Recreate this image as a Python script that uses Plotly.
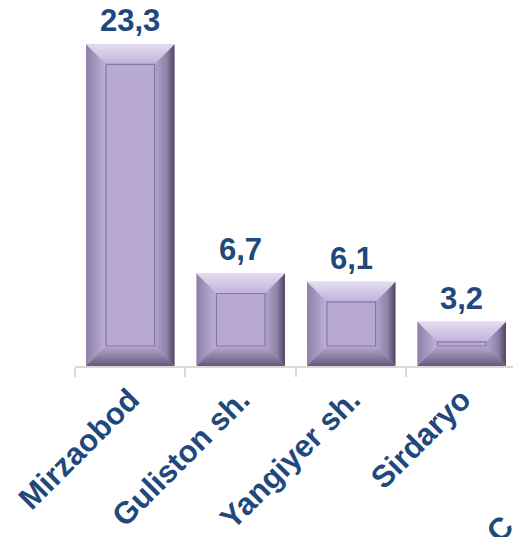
import plotly.graph_objects as go

categories = ["Mirzaobod", "Guliston sh.", "Yangiyer sh.", "Sirdaryo"]
values = [23.3, 6.7, 6.1, 3.2]

TEXT_COLOR = "#1F497D"
FONT = "Liberation Sans, Arial, sans-serif"
BAR_W = 0.8
BX = 0.18   # bevel width in category units
BY = 1.45   # bevel height in value units

fig = go.Figure()
xs = list(range(len(categories)))

fig.add_trace(go.Bar(
    x=xs, y=values, width=BAR_W,
    marker=dict(color="#B8A8D4", line=dict(width=0)),
    hoverinfo="skip", showlegend=False,
))

def face(px, py, gtype, scale):
    fig.add_trace(go.Scatter(
        x=px, y=py, mode="lines", fill="toself",
        line=dict(width=0), hoverinfo="skip", showlegend=False,
        fillgradient=dict(type=gtype, colorscale=scale),
    ))

for i, v in zip(xs, values):
    x0, x1 = i - BAR_W / 2, i + BAR_W / 2
    ix0, ix1 = x0 + BX, x1 - BX
    iy0, iy1 = BY, v - BY
    # left face
    face([x0, x0, ix0, ix0, x0], [0, v, iy1, iy0, 0], "horizontal",
         [[0, "#8C80A6"], [1, "#C0B1DA"]])
    # right face
    face([x1, x1, ix1, ix1, x1], [0, v, iy1, iy0, 0], "horizontal",
         [[0, "#B3A4CE"], [0.6, "#8E82A8"], [1, "#4E4560"]])
    # top face
    face([x0, x1, ix1, ix0, x0], [v, v, iy1, iy1, v], "vertical",
         [[0, "#C1B2DB"], [1, "#E4DCF1"]])
    # bottom face
    face([x0, x1, ix1, ix0, x0], [0, 0, iy0, iy0, 0], "vertical",
         [[0, "#66597C"], [1, "#B9A9D3"]])
    # inner face
    fig.add_trace(go.Scatter(
        x=[ix0, ix1, ix1, ix0, ix0], y=[iy0, iy0, iy1, iy1, iy0],
        mode="lines", fill="toself", fillcolor="#B8A8D4",
        line=dict(width=1.2, color="#857A9C"),
        hoverinfo="skip", showlegend=False,
    ))
    # value label
    fig.add_annotation(
        x=i, y=v, xref="x", yref="y", yanchor="bottom", yshift=4,
        text=f"{v:.1f}".replace(".", ","), showarrow=False,
        font=dict(family=FONT, size=31, color=TEXT_COLOR, weight="bold"),
    )

fig.add_annotation(
    text="C", xref="paper", yref="paper", x=1.022, y=-0.52,
    showarrow=False, textangle=-45,
    font=dict(family=FONT, size=31, color=TEXT_COLOR, weight="bold"),
)

fig.update_layout(
    width=513, height=537,
    margin=dict(l=75, r=0, t=7, b=171, autoexpand=False),
    paper_bgcolor="white", plot_bgcolor="white",
    showlegend=False, hovermode=False,
    xaxis=dict(
        range=[-0.5, 3.464], automargin=False,
        tickmode="array", tickvals=xs, ticktext=categories,
        ticks="", tickangle=-45, ticklabelstandoff=1,
        tickfont=dict(family=FONT, size=31, color=TEXT_COLOR, weight="bold"),
        showline=True, linecolor="#D9D9D9", linewidth=2,
        showgrid=False, zeroline=False,
        minor=dict(tick0=-0.5, dtick=1, ticks="outside", ticklen=9,
                   tickcolor="#D9D9D9", tickwidth=2, showgrid=False),
        fixedrange=True,
    ),
    yaxis=dict(range=[0, 26], visible=False, showgrid=False, zeroline=False,
               fixedrange=True, automargin=False),
)

fig.write_html("out.html", config={"displayModeBar": False},
               post_script="document.body.style.margin='0';document.body.style.overflow='hidden';")
